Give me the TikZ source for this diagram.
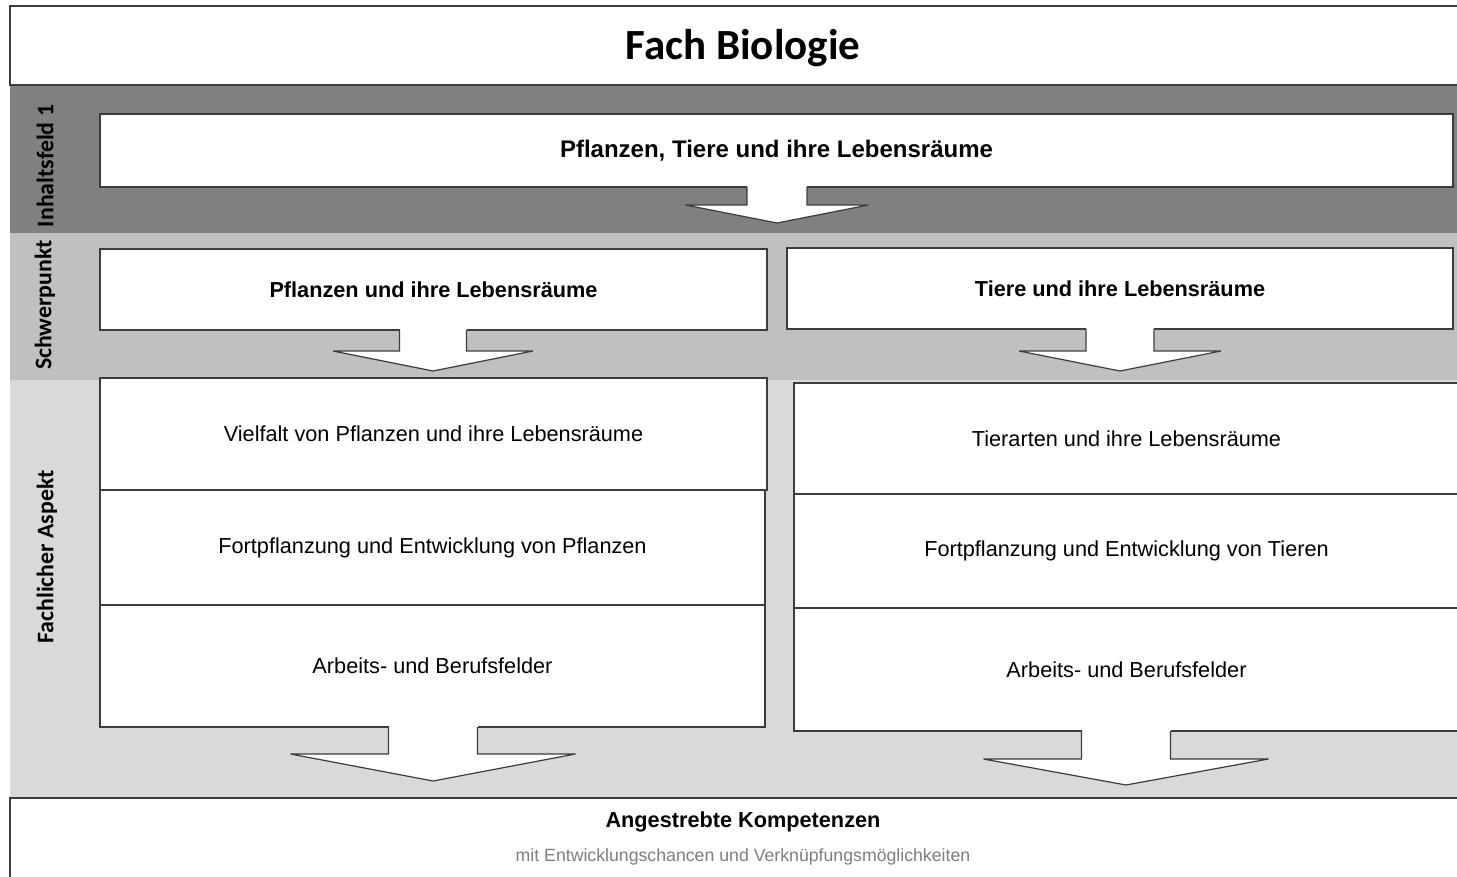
\documentclass[tikz,border=0pt]{standalone}
\usepackage{fontspec}
\setmainfont{Liberation Sans}
\newfontfamily\carlitofont{Carlito}
\definecolor{bandA}{HTML}{808080}
\definecolor{bandB}{HTML}{C0C0C0}
\definecolor{bandC}{HTML}{D9D9D9}
\definecolor{linec}{HTML}{3C3C3C}
\definecolor{subtext}{HTML}{7F7F7F}
\tikzset{
  lin/.style={draw=linec, line width=1.4pt},
  box/.style={lin, fill=white, inner sep=0pt, align=center},
  boxtext/.style={font=\fontsize{21.7}{26}\selectfont},
  boxbold/.style={font=\fontsize{21.7}{26}\selectfont\bfseries},
  sidelab/.style={rotate=90, font=\carlitofont\fontsize{23.8}{28}\selectfont\bfseries, inner sep=0pt},
  arrowbox/.style={draw=linec, line width=1.2pt, fill=white, line join=miter},
}
\newcommand\barrow[6]{%
  \fill[white] (#1-#5,#2-3) rectangle (#1+#5,#3);
  \filldraw[arrowbox] (#1-#5,#2) -- (#1-#5,#3) -- (#1-#6,#3) -- (#1,#4) -- (#1+#6,#3) -- (#1+#5,#3) -- (#1+#5,#2);
}
\begin{document}
\begin{tikzpicture}[x=1pt,y=-1pt]
\useasboundingbox (0,0) rectangle (1457,877);
% bands
\fill[white] (0,0) rectangle (1457,877);
\fill[bandA] (10,85) rectangle (1470,233);
\fill[bandB] (10,233) rectangle (1470,380);
\fill[bandC] (10,380) rectangle (1470,798);
\draw[lin] (1470,6) -- (10,6) -- (10,85) -- (1470,85);
\draw[lin] (10,890) -- (10,798) -- (1470,798);
% title
\node[font=\carlitofont\fontsize{43}{50}\selectfont\bfseries] (title) at (743,48) {Fach Biologie};
% side labels
\node[sidelab] (lab1) at (45,166) {Inhaltsfeld 1};
\node[sidelab] (lab2) at (45,305) {Schwerpunkt};
\node[sidelab] (lab3) at (47,557) {Fachlicher Aspekt};
% Inhaltsfeld box
\node[box, font=\fontsize{24}{28}\selectfont\bfseries, minimum width=1353, minimum height=73] (inh) at (776.5,150.5) {Pflanzen, Tiere und ihre Lebensräume};
\barrow{777}{187}{205}{223}{30}{91.5}
% Schwerpunkt boxes
\node[box, boxbold, minimum width=667, minimum height=81] (sp1) at (433.5,289.5) {Pflanzen und ihre Lebensräume};
\node[box, boxbold, minimum width=666, minimum height=81] (sp2) at (1120,288.5) {Tiere und ihre Lebensräume};
\barrow{433}{330}{351}{371}{33.5}{100}
\barrow{1120}{329}{351}{371}{34}{101}
% left column
\node[box, boxtext, minimum width=667, minimum height=112] (l1) at (433.5,434) {Vielfalt von Pflanzen und ihre Lebensräume};
\node[box, boxtext, minimum width=665, minimum height=115] (l2) at (432.5,547.5) {Fortpflanzung und Entwicklung von Pflanzen};
\node[box, boxtext, minimum width=665, minimum height=122] (l3) at (432.5,666) {Arbeits- und Berufsfelder};
% right column
\node[box, boxtext, minimum width=665, minimum height=111] (r1) at (1126.5,438.5) {Tierarten und ihre Lebensräume};
\node[box, boxtext, minimum width=665, minimum height=114] (r2) at (1126.5,551) {Fortpflanzung und Entwicklung von Tieren};
\node[box, boxtext, minimum width=665, minimum height=123] (r3) at (1126.5,669.5) {Arbeits- und Berufsfelder};
\barrow{433}{727}{754}{781}{44.5}{142.5}
\barrow{1126}{731}{759}{785}{44.5}{142.5}
% bottom
\node[boxbold] (komp) at (743,822) {Angestrebte Kompetenzen};
\node[font=\fontsize{17.7}{21}\selectfont, text=subtext] (sub) at (743,857) {mit Entwicklungschancen und Verknüpfungsmöglichkeiten};
\end{tikzpicture}
\end{document}
